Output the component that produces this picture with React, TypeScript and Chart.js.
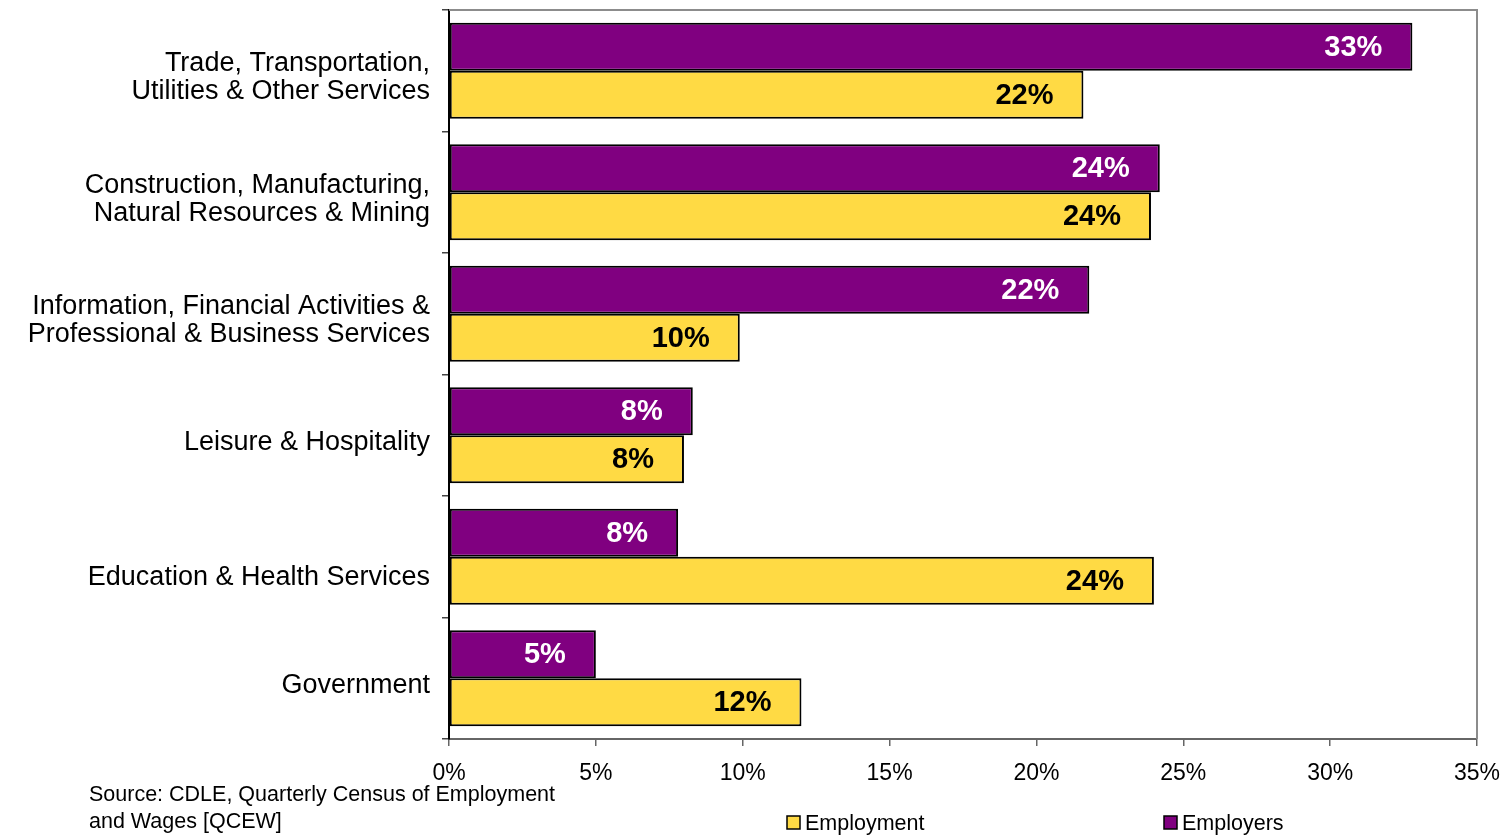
import React, { useEffect, useRef } from "react";
import { Chart, registerables } from "chart.js";

Chart.register(...registerables);

const categories: (string | string[])[] = [
  ["Trade, Transportation,", "Utilities & Other Services"],
  ["Construction, Manufacturing,", "Natural Resources & Mining"],
  ["Information, Financial Activities &", "Professional & Business Services"],
  "Leisure & Hospitality",
  ["", "Education & Health Services"],
  "Government",
];

const employersValues = [32.8, 24.2, 21.8, 8.3, 7.8, 5.0];
const employmentValues = [21.6, 23.9, 9.9, 8.0, 24.0, 12.0];
const xTickValues = [0, 5, 10, 15, 20, 25, 30, 35];
const sourceLines = ["Source: CDLE, Quarterly Census of Employment", "and Wages [QCEW]"];

const FONT = "'Liberation Sans', Arial, sans-serif";
const PURPLE = "#800080";
const YELLOW = "#FFDA44";

const dataLabelPlugin = {
  id: "dataLabels",
  afterDatasetsDraw(chart: any) {
    const ctx = chart.ctx;
    ctx.save();
    ctx.font = `bold 29px ${FONT}`;
    ctx.textAlign = "right";
    ctx.textBaseline = "middle";
    chart.data.datasets.forEach((ds: any, di: number) => {
      const meta = chart.getDatasetMeta(di);
      ctx.fillStyle = ds.labelColor;
      meta.data.forEach((el: any, i: number) => {
        const v = ds.data[i];
        ctx.fillText(Math.round(v) + "%", el.x - 30, el.y + 1);
      });
    });
    ctx.restore();
  },
};

const frameAndExtrasPlugin = {
  id: "frameExtras",
  afterDraw(chart: any) {
    const ctx = chart.ctx;
    const a = chart.chartArea;
    ctx.save();
    // top and right frame
    ctx.strokeStyle = "#8c8c8c";
    ctx.lineWidth = 2;
    ctx.beginPath();
    ctx.moveTo(a.left, a.top);
    ctx.lineTo(a.right, a.top);
    ctx.lineTo(a.right, a.bottom);
    ctx.stroke();

    // source note
    ctx.fillStyle = "#000";
    ctx.font = `21.5px ${FONT}`;
    ctx.textAlign = "left";
    ctx.textBaseline = "middle";
    sourceLines.forEach((line, i) => {
      ctx.fillText(line, 89, 795 + i * 27);
    });

    // legend (Employment first, then Employers)
    const items = [
      { ds: chart.data.datasets[1], x: 787 },
      { ds: chart.data.datasets[0], x: 1164 },
    ];
    ctx.font = `21.5px ${FONT}`;
    items.forEach((it) => {
      ctx.fillStyle = it.ds.backgroundColor;
      ctx.fillRect(it.x, 816, 13, 13);
      ctx.strokeStyle = "#000";
      ctx.lineWidth = 1.5;
      ctx.strokeRect(it.x, 816, 13, 13);
      ctx.fillStyle = "#000";
      ctx.fillText(it.ds.label, it.x + 18, 824);
    });
    ctx.restore();
  },
};

export default function App() {
  const ref = useRef<HTMLCanvasElement | null>(null);
  useEffect(() => {
    document.body.style.margin = "0";
    const canvas = ref.current;
    if (!canvas) return;
    const chart = new Chart(canvas, {
      type: "bar",
      data: {
        labels: categories,
        datasets: [
          {
            label: "Employers",
            data: employersValues,
            backgroundColor: PURPLE,
            borderColor: "#000",
            borderWidth: 2,
            borderSkipped: false,
            barPercentage: 1,
            categoryPercentage: 0.79,
            labelColor: "#ffffff",
          } as any,
          {
            label: "Employment",
            data: employmentValues,
            backgroundColor: YELLOW,
            borderColor: "#000",
            borderWidth: 2,
            borderSkipped: false,
            barPercentage: 1,
            categoryPercentage: 0.79,
            labelColor: "#000000",
          } as any,
        ],
      },
      options: {
        indexAxis: "y",
        responsive: false,
        animation: false,
        layout: { padding: { top: 10, right: 30, bottom: 0, left: 0 } },
        plugins: {
          legend: { display: false },
          tooltip: { enabled: false },
        },
        scales: {
          x: {
            min: 0,
            max: 35,
            afterBuildTicks: (scale: any) => {
              scale.ticks = xTickValues.map((v) => ({ value: v }));
            },
            afterFit: (scale: any) => {
              scale.height = 96;
              scale.paddingLeft = 0;
              scale.paddingRight = 0;
            },
            ticks: {
              callback: (v: any) => v + "%",
              font: { family: FONT, size: 23 },
              color: "#000",
              padding: 14,
              maxRotation: 0,
            },
            grid: {
              drawOnChartArea: false,
              drawTicks: true,
              tickLength: 7,
              color: "#666",
              lineWidth: 1.5,
            },
            border: { color: "#666", width: 2 },
          },
          y: {
            afterFit: (scale: any) => {
              scale.width = 449;
              scale.paddingTop = 0;
              scale.paddingBottom = 0;
            },
            ticks: {
              font: { family: FONT, size: 27, lineHeight: 1.04 },
              color: "#000",
              padding: 12,
              labelOffset: 7,
            },
            grid: {
              offset: true,
              drawOnChartArea: false,
              drawTicks: true,
              tickLength: 7,
              color: "#444",
              lineWidth: 1.5,
            },
            border: { color: "#000", width: 2 },
          },
        },
      } as any,
      plugins: [dataLabelPlugin, frameAndExtrasPlugin],
    });
    return () => chart.destroy();
  }, []);
  return <canvas ref={ref} width={1507} height={835} style={{ display: "block" }} />;
}
